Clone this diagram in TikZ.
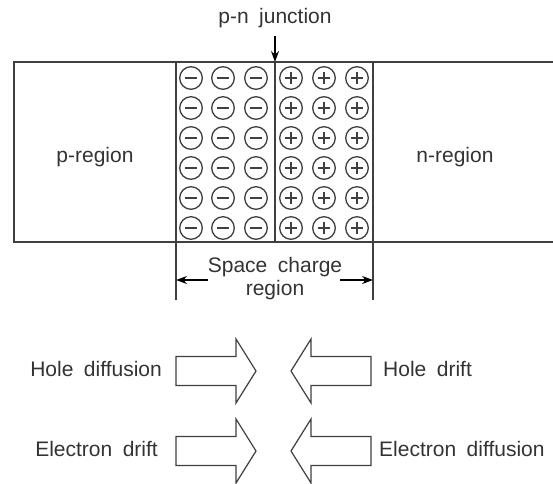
\documentclass[tikz,border=0pt]{standalone}
\usepackage{fontspec}
\setmainfont{Liberation Sans}[WordSpace=1.8]
\usetikzlibrary{arrows.meta}
\definecolor{linegray}{HTML}{404040}
\definecolor{txtgray}{HTML}{333333}
\begin{document}
\begin{tikzpicture}[x=1pt,y=-1pt,
  ln/.style={draw=linegray, line width=1.4pt},
  lbl/.style={text=txtgray, font=\fontsize{21}{25}\selectfont, inner sep=0pt, anchor=base},
  ion/.style={draw=linegray, line width=1.3pt},
  dimarrow/.style={draw=black, line width=1.1pt, -{Stealth[length=11pt,width=8pt]}},
  blockarrow/.style={draw=linegray, line width=1.2pt, fill=white, line join=miter},
  pics/fatarrow/.style={code={
    \draw[blockarrow] (0,-14.5) -- (60,-14.5) -- (60,-32) -- (80,0)
      -- (60,32) -- (60,14.5) -- (0,14.5) -- cycle;}}]
\useasboundingbox (0,0) rectangle (553,483);

% semiconductor slab, open towards the right
\draw[ln] (553,62) -- (14,62) -- (14,242) -- (553,242);
% depletion-layer boundaries and metallurgical junction
\draw[ln] (176,62) -- (176,300);
\draw[ln] (373,62) -- (373,300);
\draw[ln] (275,62) -- (275,242);

% fixed ionised acceptors (left) and donors (right)
\foreach \y in {78,108,138,168,198,228}{
  \foreach \x in {191,223,256}{
    \draw[ion] (\x,\y) circle[radius=11.3pt];
    \draw[ion] (\x-6,\y) -- (\x+6,\y);
  }
  \foreach \x in {291,324,357}{
    \draw[ion] (\x,\y) circle[radius=11.3pt];
    \draw[ion] (\x-6,\y) -- (\x+6,\y) (\x,\y-6) -- (\x,\y+6);
  }
}

% labels
\node[lbl] (junc) at (275,23) {p-n junction};
\coordinate (juncfrom) at (275,36);
\coordinate (juncto) at (275,62);
\draw[dimarrow] (juncfrom) -- (juncto);

\node[lbl] (preg) at (95,162) {p-region};
\node[lbl] (nreg) at (455,162) {n-region};

\node[lbl] (scr1) at (275,272) {Space charge};
\node[lbl] (scr2) at (275,295) {region};
\coordinate (dimLa) at (208,280);
\coordinate (dimLb) at (176,280);
\coordinate (dimRa) at (340,280);
\coordinate (dimRb) at (373,280);
\draw[dimarrow] (dimLa) -- (dimLb);
\draw[dimarrow] (dimRa) -- (dimRb);

% carrier flows
\pic at (176,371) {fatarrow};
\pic at (176,451) {fatarrow};
\pic[xscale=-1] at (371,371) {fatarrow};
\pic[xscale=-1] at (371,451) {fatarrow};

\node[lbl, anchor=base east] (hdiff) at (162,376) {Hole diffusion};
\node[lbl, anchor=base east] (edrift) at (158,456) {Electron drift};
\node[lbl, anchor=base west] (hdrift) at (383,376) {Hole drift};
\node[lbl, anchor=base west] (ediff) at (379,456) {Electron diffusion};
\end{tikzpicture}
\end{document}
